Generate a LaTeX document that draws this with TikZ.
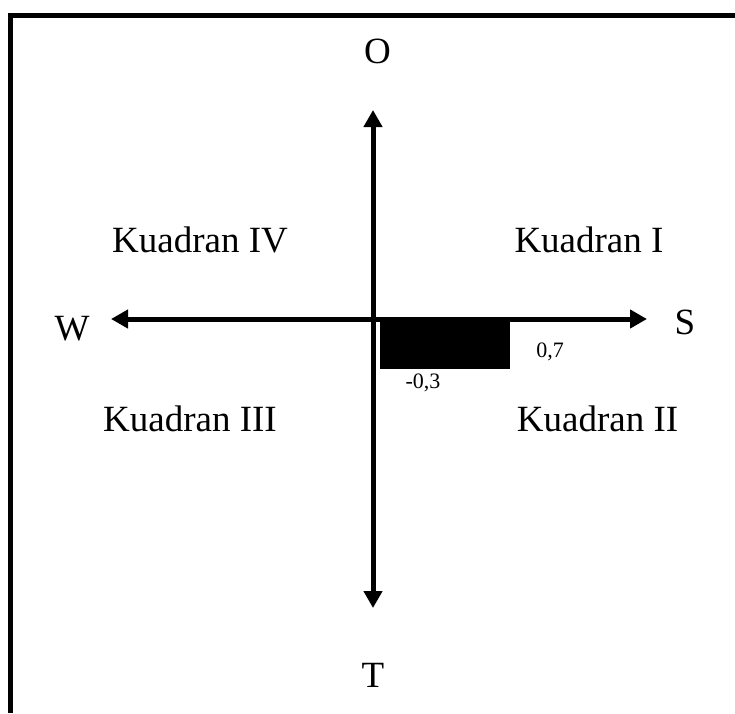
\documentclass[tikz,border=0pt]{standalone}
\usepackage{fontspec}
\setmainfont{Liberation Serif}
\usetikzlibrary{arrows.meta}
\begin{document}
\begin{tikzpicture}[x=1pt,y=-1pt,
  big/.style={inner sep=0pt,anchor=base,font=\fontsize{37}{44}\selectfont},
  small/.style={inner sep=0pt,anchor=base,font=\fontsize{22}{26}\selectfont},
  axis/.style={line width=5pt,{Triangle[length=17pt,width=18pt]}-{Triangle[length=17pt,width=18pt]}}]
\useasboundingbox (0,0) rectangle (735,713);
% frame
\draw[line width=5pt] (10.5,713) -- (10.5,15.5) -- (735,15.5);
% axes
\coordinate (top) at (373,110);
\coordinate (bot) at (373,608);
\coordinate (left) at (111,319);
\coordinate (right) at (647,319);
\draw[axis] (bot) -- (top);
\draw[axis] (left) -- (right);
% bar
\fill (380,317) rectangle (510,369);
% labels
\node[big] (O) at (377.5,63) {O};
\node[big] (W) at (72,340) {W};
\node[big] (S) at (685,334) {S};
\node[big] (T) at (373,687) {T};
\node[big] (k4) at (200,252) {Kuadran IV};
\node[big] (k1) at (589,252) {Kuadran I};
\node[big] (k3) at (190,431) {Kuadran III};
\node[big] (k2) at (597.5,431) {Kuadran II};
\node[small] (a) at (550,357) {0,7};
\node[small] (b) at (423,388) {-0,3};
\end{tikzpicture}
\end{document}
